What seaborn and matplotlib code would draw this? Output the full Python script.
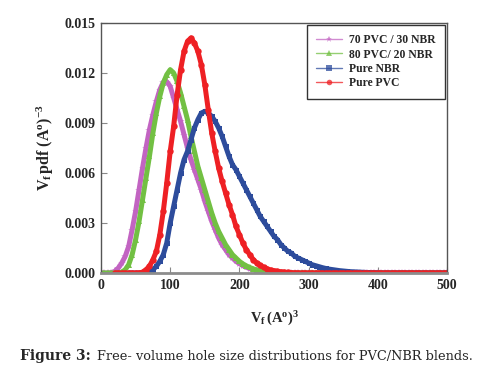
import numpy as np
import pandas as pd
import seaborn as sns
from matplotlib import pyplot as plt
from matplotlib.lines import Line2D

# series values, step of 5 (A)^3, starting at the given x
# (zero afterwards up to 500)
labels = ['70 PVC / 30 NBR', '80 PVC/ 20 NBR', 'Pure NBR', 'Pure PVC']

start_70_30 = 0
pdf_70_30 = [0, 0, 0, 0.00002, 0.0001, 0.0003, 0.0006, 0.0010, 0.0016, 0.0026,
             0.0037, 0.0050, 0.0063, 0.0075, 0.0086, 0.0095, 0.0103, 0.0110, 0.01145, 0.01148,
             0.0112, 0.0105, 0.0098, 0.0091, 0.0083, 0.0075, 0.0068, 0.0062, 0.0056, 0.0050,
             0.0043, 0.0037, 0.0031, 0.0026, 0.0021, 0.0017, 0.0014, 0.0011, 0.0009, 0.0007,
             0.00056, 0.00044, 0.00034, 0.00026, 0.0002, 0.00015, 0.00011, 0.00008, 0.00006,
             0.00004, 0.00003, 0.00002, 0.00001]

start_80_20 = 0
pdf_80_20 = [0, 0, 0, 0, 0, 0, 0.00005, 0.0002, 0.0005, 0.0011,
             0.0020, 0.0031, 0.0044, 0.0057, 0.0070, 0.0084, 0.0096, 0.0106, 0.0114, 0.0119,
             0.0122, 0.0120, 0.0115, 0.0108, 0.0100, 0.0092, 0.0082, 0.0073, 0.0064, 0.0057,
             0.0050, 0.0043, 0.0036, 0.0030, 0.0025, 0.0021, 0.0017, 0.0014, 0.0011, 0.0009,
             0.0007, 0.00055, 0.00043, 0.00033, 0.00025, 0.00018, 0.00013, 0.0001, 0.00007,
             0.00005, 0.00003, 0.00002, 0.00001]

start_nbr = 40
pdf_nbr = [0, 0, 0, 0, 0, 0.00003, 0.0001, 0.0002, 0.0004, 0.0007,
           0.0011, 0.0018, 0.0030, 0.0040, 0.0050, 0.0060, 0.0068, 0.0073, 0.0080, 0.0087,
           0.0092, 0.0096, 0.0097, 0.0096, 0.0094, 0.0091, 0.0087, 0.0082, 0.0076, 0.0070,
           0.0065, 0.0062, 0.0058, 0.0054, 0.0050, 0.0046, 0.0042, 0.0038, 0.0034, 0.0031,
           0.0028, 0.0025, 0.0022, 0.0020, 0.0017, 0.0015, 0.0013, 0.0012, 0.0010, 0.0009,
           0.0008, 0.0007, 0.0006, 0.0005, 0.00044, 0.00038, 0.00032, 0.00027, 0.00023, 0.0002,
           0.00017, 0.00014, 0.00012, 0.0001, 0.00008, 0.00007, 0.00006, 0.00005, 0.00004,
           0.00003, 0.00002, 0.00002, 0.00001]

start_pvc = 20
pdf_pvc = [0, 0, 0, 0, 0, 0, 0, 0, 0.00005, 0.0002,
           0.0004, 0.0008, 0.0013, 0.0023, 0.0037, 0.0054, 0.0073, 0.0088, 0.0107, 0.0122,
           0.0133, 0.0139, 0.0141, 0.0138, 0.0133, 0.0125, 0.0113, 0.0098, 0.0084, 0.0073,
           0.0063, 0.0055, 0.0048, 0.0041, 0.0035, 0.0028, 0.0023, 0.0018, 0.0014, 0.0011,
           0.0008, 0.0006, 0.00045, 0.00034, 0.00025, 0.00018, 0.00013, 0.0001, 0.00007,
           0.00005, 0.00003, 0.00002, 0.00001]

colors = ['#C264C2', '#72C043', '#2D4C9C', '#EE2024']
markers = ['*', '^', 's', 'o']


def to_frame(start, vals):
    x = np.arange(start, 505, 5)
    y = np.zeros(len(x))
    y[:len(vals)] = vals
    return pd.DataFrame({'vf': x, 'pdf': y})


frames = [to_frame(start_70_30, pdf_70_30), to_frame(start_80_20, pdf_80_20),
          to_frame(start_nbr, pdf_nbr), to_frame(start_pvc, pdf_pvc)]

sns.set_style('ticks')
plt.rcParams['font.family'] = ['Liberation Serif', 'DejaVu Serif']
plt.rcParams['mathtext.fontset'] = 'custom'
plt.rcParams['mathtext.rm'] = 'Liberation Serif'
plt.rcParams['mathtext.bf'] = 'Liberation Serif:bold'
plt.rcParams['mathtext.it'] = 'Liberation Serif:italic'

fig = plt.figure(figsize=(4.92, 3.77), dpi=100)
ax = fig.add_axes([0.2053, 0.2759, 0.7032, 0.6631])

sizes = [5.5, 4.5, 3.6, 4.6]
for df, c, m, ms in zip(frames, colors, markers, sizes):
    sns.lineplot(data=df, x='vf', y='pdf', ax=ax, color=c, marker=m, lw=3.6,
                 markersize=ms, markeredgewidth=0, estimator=None)

ax.set_xlim(0, 500)
ax.set_ylim(0, 0.015)
ax.set_xticks([0, 100, 200, 300, 400, 500])
ax.set_yticks([0, 0.003, 0.006, 0.009, 0.012, 0.015])
ax.set_yticklabels(['%.3f' % v for v in ax.get_yticks()])
ax.tick_params(direction='in', length=4, color='#888888', labelsize=10, pad=4)
for lab in ax.get_xticklabels() + ax.get_yticklabels():
    lab.set_fontweight('bold')
for side in ['left', 'top', 'right']:
    ax.spines[side].set_color('#555555')
    ax.spines[side].set_linewidth(1)
ax.spines['bottom'].set_color('#8c8c8c')
ax.spines['bottom'].set_linewidth(2)

ax.set_xlabel(r'$\mathbf{V_f\,(A^o)^3}$', fontsize=10.5, labelpad=13)
ax.set_ylabel(r'$\mathbf{V_f\,pdf\ (A^o)^{-3}}$', fontsize=11.5, labelpad=6)

handles = [Line2D([0], [0], color=c, marker=m, lw=1, markersize=4 if m != '*' else 5,
                  markeredgewidth=0, alpha=0.75)
           for c, m in zip(colors, markers)]
leg = fig.legend(handles, labels, loc='upper left', bbox_to_anchor=(0.624, 0.934),
                 frameon=True, fancybox=False, edgecolor='black',
                 prop={'weight': 'bold', 'size': 8.4}, handlelength=2.2, borderpad=0.8,
                 labelspacing=0.2, borderaxespad=0, handletextpad=0.6)
leg.get_frame().set_linewidth(1)

fig.text(0.04, 0.055, 'Figure 3:', fontsize=10, fontweight='bold', ha='left', va='center',
         family='DejaVu Serif')
fig.text(0.197, 0.055, 'Free- volume hole size distributions for PVC/NBR blends.',
         fontsize=9.3, ha='left', va='center', family='DejaVu Serif')

fig.savefig('out.png', dpi=100)
